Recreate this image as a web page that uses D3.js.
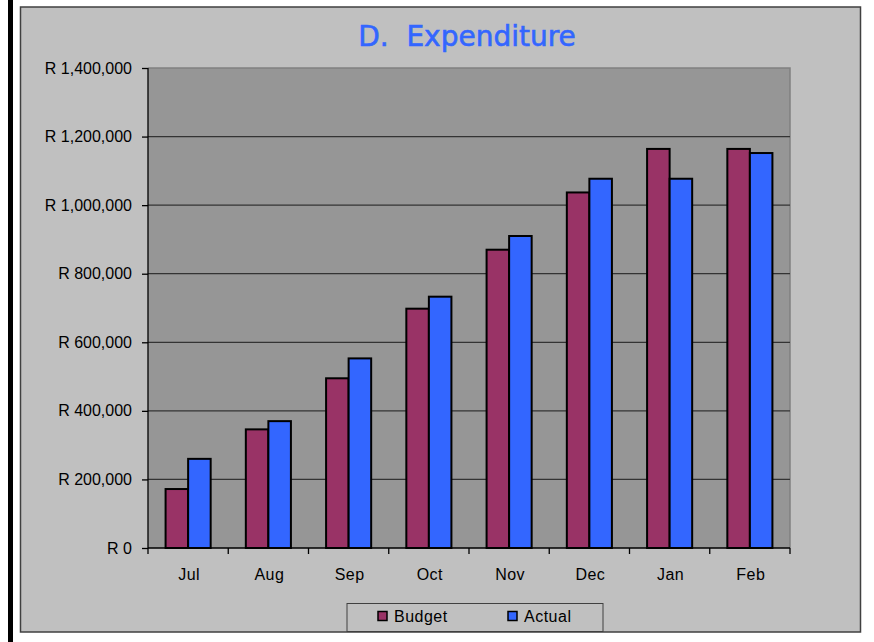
<!DOCTYPE html>
<html>
<head>
<meta charset="utf-8">
<script src="https://cdn.jsdelivr.net/npm/d3@7"></script>
<style>
  body { margin: 0; background: #fff; }
  svg { display: block; }
</style>
</head>
<body>
<div class="bar-chart"></div>
<script>
const months = ['Jul', 'Aug', 'Sep', 'Oct', 'Nov', 'Dec', 'Jan', 'Feb'];
const budget = [172000, 346000, 495000, 698000, 870000, 1037000, 1164000, 1164000];
const actual = [260000, 370000, 553000, 733000, 910000, 1077000, 1077000, 1152000];
const seriesNames = ['Budget', 'Actual'];
const yTicks = [0, 200000, 400000, 600000, 800000, 1000000, 1200000, 1400000];

const width = 874;
const height = 642;
const colors = { Budget: '#993366', Actual: '#3366FF' };

const svg = d3.select('.bar-chart').append('svg')
    .attr('width', width)
    .attr('height', height)
    .attr('viewBox', [0, 0, width, height]);

// black bar on the left side of the page
svg.append('rect')
    .attr('x', 8).attr('y', 0)
    .attr('width', 5).attr('height', height)
    .style('fill', '#000');

// chart area
svg.append('rect')
    .attr('x', 20.5).attr('y', 7)
    .attr('width', 840).attr('height', 625)
    .style('fill', '#C0C0C0')
    .style('stroke', '#404040')
    .style('stroke-width', 1.5);

const plot = { left: 148, top: 68, right: 790, bottom: 548 };

const x = d3.scaleBand()
    .domain(months)
    .range([plot.left, plot.right]);

const x1 = d3.scaleBand()
    .domain(seriesNames)
    .range([0, x.bandwidth()])
    .paddingOuter(0.78);

const y = d3.scaleLinear()
    .domain([0, 1400000])
    .range([plot.bottom, plot.top]);

// plot area
svg.append('rect')
    .attr('x', plot.left).attr('y', plot.top)
    .attr('width', plot.right - plot.left).attr('height', plot.bottom - plot.top)
    .style('fill', '#969696');

// top/right border of plot area
svg.append('path')
    .attr('d', `M${plot.left},${plot.top}H${plot.right}V${plot.bottom}`)
    .style('fill', 'none')
    .style('stroke', '#808080')
    .style('stroke-width', 1.5);

// gridlines
svg.selectAll('line.grid')
    .data(yTicks.slice(1, -1))
    .enter()
    .append('line')
    .attr('class', 'grid')
    .attr('x1', plot.left).attr('x2', plot.right)
    .attr('y1', d => y(d)).attr('y2', d => y(d))
    .style('stroke', '#333')
    .style('stroke-width', 1.3);

// bars
const rows = months.map((m, i) => ({ month: m, Budget: budget[i], Actual: actual[i] }));

const groups = svg.selectAll('g.month')
    .data(rows)
    .enter()
    .append('g')
    .attr('class', 'month')
    .attr('transform', d => `translate(${x(d.month)},0)`);

groups.selectAll('rect')
    .data(d => seriesNames.map(s => ({ key: s, value: d[s] })))
    .enter()
    .append('rect')
    .attr('x', d => x1(d.key))
    .attr('width', x1.bandwidth())
    .attr('y', d => y(d.value))
    .attr('height', d => y(0) - y(d.value))
    .style('fill', d => colors[d.key])
    .style('stroke', '#000')
    .style('stroke-width', 2);

// y axis
const yAxis = d3.axisLeft(y)
    .tickValues(yTicks)
    .tickSize(6)
    .tickPadding(10)
    .tickFormat(d => 'R ' + d3.format(',')(d));

svg.append('g')
    .attr('transform', `translate(${plot.left},0)`)
    .call(yAxis)
    .call(g => g.select('.domain').attr('d', `M0,${plot.top}V${plot.bottom}`).style('stroke', '#000').style('stroke-width', 1.3))
    .call(g => g.selectAll('.tick line').style('stroke', '#000').style('stroke-width', 1.3))
    .call(g => g.selectAll('.tick text')
        .style('font-family', '"Liberation Sans", Arial, sans-serif')
        .style('font-size', '16px')
        .style('fill', '#000'));

// x axis with ticks between categories
svg.append('line')
    .attr('x1', plot.left).attr('x2', plot.right)
    .attr('y1', plot.bottom).attr('y2', plot.bottom)
    .style('stroke', '#000')
    .style('stroke-width', 1.3);

svg.selectAll('line.xtick')
    .data(months.concat(['end']))
    .enter()
    .append('line')
    .attr('class', 'xtick')
    .attr('x1', (d, i) => plot.left + i * x.step())
    .attr('x2', (d, i) => plot.left + i * x.step())
    .attr('y1', plot.bottom).attr('y2', plot.bottom + 6)
    .style('stroke', '#000')
    .style('stroke-width', 1.3);

svg.selectAll('text.xlabel')
    .data(months)
    .enter()
    .append('text')
    .attr('class', 'xlabel')
    .attr('x', d => x(d) + x.bandwidth() / 2 + 1)
    .attr('y', 580)
    .attr('text-anchor', 'middle')
    .style('font-family', '"Liberation Sans", Arial, sans-serif')
    .style('font-size', '16px')
    .style('letter-spacing', '0.5px')
    .text(d => d);

// title
svg.append('text')
    .attr('x', 467)
    .attr('y', 46)
    .attr('text-anchor', 'middle')
    .style('font-family', '"DejaVu Sans", Verdana, sans-serif')
    .style('font-size', '28px')
    .style('fill', '#3366FF')
    .style('stroke', '#3366FF')
    .style('stroke-width', 0.6)
    .style('white-space', 'pre')
    .text('D.  Expenditure');

// legend
const legend = svg.append('g');

legend.append('rect')
    .attr('x', 347).attr('y', 603.5)
    .attr('width', 256).attr('height', 28)
    .style('fill', '#C0C0C0')
    .style('stroke', '#404040')
    .style('stroke-width', 1);

const legendX = [378, 508];

legend.selectAll('rect.swatch')
    .data(seriesNames)
    .enter()
    .append('rect')
    .attr('class', 'swatch')
    .attr('x', (d, i) => legendX[i])
    .attr('y', 611.5)
    .attr('width', 9).attr('height', 9)
    .style('fill', d => colors[d])
    .style('stroke', '#000')
    .style('stroke-width', 1.5);

legend.selectAll('text')
    .data(seriesNames)
    .enter()
    .append('text')
    .attr('x', (d, i) => legendX[i] + 16)
    .attr('y', 622)
    .style('font-family', '"Liberation Sans", Arial, sans-serif')
    .style('font-size', '16px')
    .style('letter-spacing', '0.5px')
    .text(d => d);
</script>
</body>
</html>
